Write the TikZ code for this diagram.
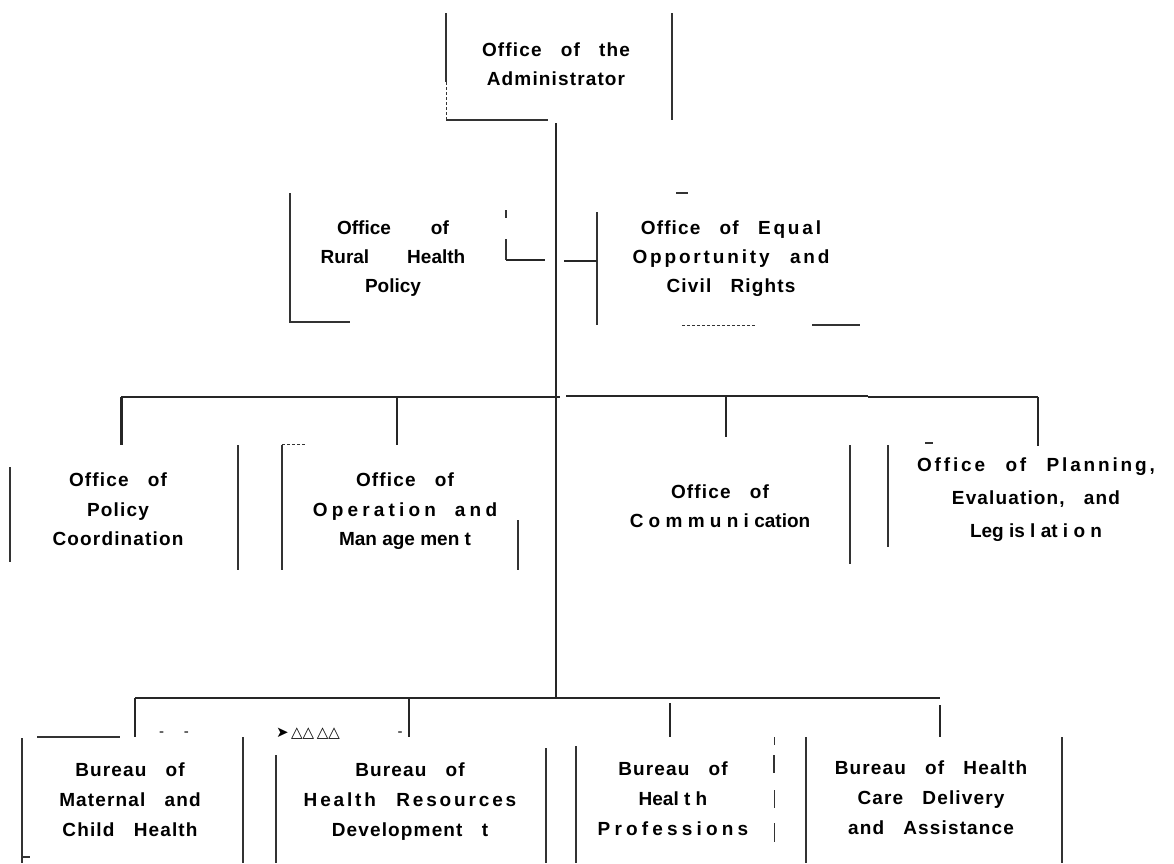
\documentclass[tikz,border=0pt]{standalone}
\usepackage{fontspec}
\setmainfont{Liberation Sans}
\newfontfamily\spaced[LetterSpace=6, WordSpace=3]{Liberation Sans}
\newfontfamily\wider[LetterSpace=15, WordSpace=2.5]{Liberation Sans}
\newfontfamily\widest[LetterSpace=22, WordSpace=2]{Liberation Sans}
\newfontfamily\symfont{DejaVu Sans}

\tikzset{
  unit/.style={align=center, inner sep=0pt, anchor=north,
    font=\spaced\bfseries\fontsize{19}{29.5}\selectfont},
  rule/.style={line width=1.1pt, black!80},
  link/.style={line width=1.3pt, black!85},
  speck/.style={inner sep=0pt, anchor=base, font=\fontsize{15}{15}\selectfont}
}

\begin{document}
\begin{tikzpicture}[x=1pt, y=-1pt]
  \useasboundingbox (0,0) rectangle (1174,863);

  % top box
  \node[unit, font=\spaced\bfseries\fontsize{19}{28.5}\selectfont]
    (admin) at (556,43) {Office of the\\Administrator};
  \draw[rule] (446,13) -- (446,82);
  \draw[rule, line width=0.6pt, densely dashed] (446,82) -- (446,120);
  \draw[rule] (446,120) -- (548,120);
  \draw[rule] (672,13) -- (672,120);

  % staff offices
  \node[unit, font=\bfseries\fontsize{19}{29}\selectfont]
    (rural) at (393,221) {Office\hspace{40pt}of\\Rural\hspace{38pt}Health\\Policy};
  \node[unit, font=\spaced\bfseries\fontsize{19}{29}\selectfont]
    (equal) at (731,221) {Office of {\wider Equal}\\{\wider Opportunity and}\\Civil Rights};
  \draw[rule] (290,193) -- (290,322) -- (350,322);
  \draw[rule] (506,210) -- (506,218);
  \draw[rule] (506,239) -- (506,260);
  \draw[rule] (676,193) -- (688,193);
  \draw[rule] (597,212) -- (597,325);
  \draw[rule, line width=0.7pt, densely dashed] (682,325) -- (756,325);
  \draw[rule] (812,325) -- (860,325);

  % offices
  \node[unit] (policy) at (118,473) {Office of\\Policy\\Coordination};
  \node[unit] (operation) at (405,473)
    {Office of\\{\widest Operation and}\\{\normalfont\bfseries Man age men t}};
  \node[unit, font=\bfseries\fontsize{19}{29}\selectfont]
    (communication) at (720,485) {{\spaced Office of}\\C o m m u n i cation};
  \node[unit, font=\spaced\bfseries\fontsize{19}{33}\selectfont]
    (planning) at (1036,458)
    {{\wider Office of Planning,}\\Evaluation, and\\{\normalfont\bfseries Leg is l at i o n}};
  \draw[rule] (10,467) -- (10,562);
  \draw[rule] (238,445) -- (238,570);
  \draw[rule, line width=0.6pt, densely dashed] (282,444) -- (305,444);
  \draw[rule] (282,445) -- (282,570);
  \draw[rule] (518,520) -- (518,570);
  \draw[rule] (850,445) -- (850,564);
  \draw[rule] (888,445) -- (888,547);
  \draw[rule] (925,443) -- (933,443);

  % bureaus
  \node[unit, font=\spaced\bfseries\fontsize{19}{30}\selectfont]
    (maternal) at (130,763) {Bureau of\\Maternal and\\Child Health};
  \node[unit, font=\spaced\bfseries\fontsize{19}{30}\selectfont]
    (resources) at (410,763) {Bureau of\\{\wider Health Resources}\\Development t};
  \node[unit, font=\spaced\bfseries\fontsize{19}{30}\selectfont]
    (professions) at (673,762)
    {Bureau of\\{\normalfont\bfseries Heal t h}\\{\widest Professions}};
  \node[unit, font=\spaced\bfseries\fontsize{19}{30}\selectfont]
    (care) at (931,761) {Bureau of Health\\Care Delivery\\and Assistance};
  \draw[rule] (37,737) -- (120,737);
  \draw[rule] (22,738) -- (22,863);
  \draw[rule] (22,857) -- (30,857);
  \draw[rule] (243,737) -- (243,863);
  \draw[rule] (276,755) -- (276,863);
  \draw[rule] (546,748) -- (546,863);
  \draw[rule] (576,746) -- (576,863);
  \draw[rule, line width=0.6pt] (774,737) -- (774,745);
  \draw[rule, line width=1.8pt] (774,755) -- (774,773);
  \draw[rule, line width=0.8pt] (774,790) -- (774,808);
  \draw[rule, line width=0.8pt] (774,823) -- (774,842);
  \draw[rule] (806,737) -- (806,863);
  \draw[rule] (1062,737) -- (1062,863);

  % scan specks
  \node[speck] (dashes) at (174,736) {-\hspace{20pt}-};
  \node[speck, font=\symfont\fontsize{15}{15}\selectfont]
    (marks) at (308,737) {➤\,△△\,△△};
  \node[speck] (dash) at (400,736) {-};

  % connectors
  \coordinate (trunk) at (556,123);
  \coordinate (hub3) at (556,397);
  \coordinate (hub4) at (556,698);
  \draw[link] (trunk) -- (hub4);

  \coordinate (rural in) at (506,260);
  \coordinate (rural out) at (545,260);
  \coordinate (equal out) at (564,261);
  \coordinate (equal in) at (597,261);
  \draw[link] (rural in) -- (rural out);
  \draw[link] (equal out) -- (equal in);

  \coordinate (bus3 w) at (121,397);
  \coordinate (bus3 e) at (1038,397);
  \draw[link] (bus3 w) -- (560,397);
  \draw[link, line width=1.9pt] (566,396) -- (868,396);
  \draw[link] (868,397) -- (bus3 e);
  \coordinate (c-policy) at (121,445);
  \coordinate (c-operation) at (397,445);
  \coordinate (c-communication) at (726,437);
  \coordinate (c-planning) at (1038,446);
  \draw[link, line width=3pt] (bus3 w) -- (c-policy);
  \foreach \n in {operation,communication,planning}
    \draw[link] (c-\n |- bus3 w) -- (c-\n);

  \coordinate (bus4 w) at (135,698);
  \coordinate (bus4 e) at (940,698);
  \draw[link] (bus4 w) -- (bus4 e);
  \coordinate (c-maternal) at (135,737);
  \coordinate (c-resources) at (409,737);
  \coordinate (c-professions) at (670,737);
  \coordinate (c-care) at (940,737);
  \draw[link] (bus4 w) -- (c-maternal);
  \draw[link] (c-resources |- bus4 w) -- (c-resources);
  \draw[link, line width=1.8pt] (670,703) -- (c-professions);
  \draw[link] (940,705) -- (c-care);
\end{tikzpicture}
\end{document}
